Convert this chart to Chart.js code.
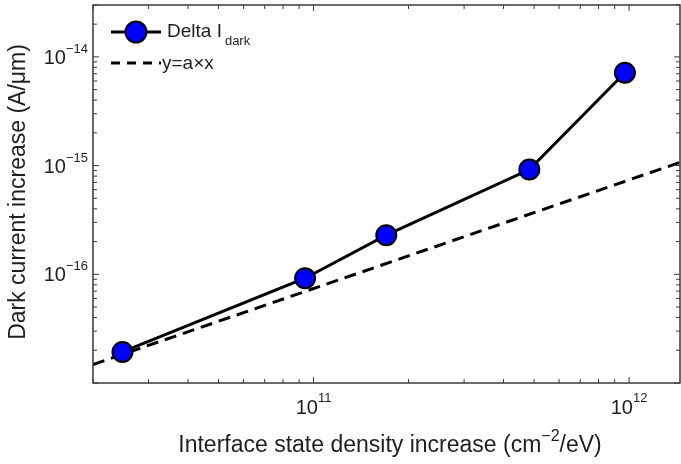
<!DOCTYPE html>
<html>
<head>
<meta charset="utf-8">
<script src="https://cdn.jsdelivr.net/npm/chart.js@4.4.0/dist/chart.umd.min.js"></script>
<style>
  html, body { margin: 0; padding: 0; background: #fff; }
  #wrap { width: 681px; height: 464px; position: relative; }
</style>
</head>
<body>
<div id="wrap"><canvas id="chartDarkCurrent" width="681" height="464"></canvas></div>
<script>
// valeurs
const densityIncrease = [2.48e10, 9.4e10, 1.70e11, 4.83e11, 9.7e11];
const darkCurrentIncrease = [1.93e-17, 9.2e-17, 2.29e-16, 9.2e-16, 7.15e-15];
// droite y = a*x (extrémités)
const fitX = [2e10, 1.45e12];
const fitY = [1.48e-17, 1.07e-15];

const xRange = [2e10, 1.45e12];
const yRange = [1e-17, 3e-14];
const xTickExps = [11, 12];
const yTickExps = [-16, -15, -14];

const FONT = '"Liberation Sans", Arial, sans-serif';
const TEXT = '#1e1e1e';
const AXIS = '#3a3a3a';

function logTicks(min, max) {
    const out = [];
    for (let e = Math.floor(Math.log10(min)); e <= Math.ceil(Math.log10(max)); e++) {
        for (let m = 1; m <= 9; m++) {
            const v = m * Math.pow(10, e);
            if (v >= min && v <= max) out.push({ v: v, major: m === 1 });
        }
    }
    return out;
}

function drawPow(ctx, exp, x, y, align, baseSize, expSize, rise) {
    const base = '10';
    const ex = String(exp).replace('-', '\u2212');
    ctx.font = baseSize + 'px ' + FONT;
    const wb = ctx.measureText(base).width;
    ctx.font = expSize + 'px ' + FONT;
    const we = ctx.measureText(ex).width;
    let x0 = x;
    if (align === 'center') x0 = x - (wb + we) / 2;
    if (align === 'right') x0 = x - (wb + we);
    ctx.textAlign = 'left';
    ctx.textBaseline = 'alphabetic';
    ctx.font = baseSize + 'px ' + FONT;
    ctx.fillText(base, x0, y);
    ctx.font = expSize + 'px ' + FONT;
    ctx.fillText(ex, x0 + wb, y - rise);
}

const framePlugin = {
    id: 'framePlugin',
    afterDraw(chart) {
        const ctx = chart.ctx;
        const a = chart.chartArea;
        const xs = chart.scales.x;
        const ys = chart.scales.y;
        ctx.save();

        // cadre
        ctx.strokeStyle = AXIS;
        ctx.lineWidth = 1.5;
        ctx.strokeRect(a.left, a.top, a.right - a.left, a.bottom - a.top);

        // graduations vers l'intérieur
        ctx.lineWidth = 1;
        logTicks(xRange[0], xRange[1]).forEach(t => {
            const px = xs.getPixelForValue(t.v);
            const len = t.major ? 6 : 4;
            ctx.beginPath();
            ctx.moveTo(px, a.bottom); ctx.lineTo(px, a.bottom - len);
            ctx.moveTo(px, a.top); ctx.lineTo(px, a.top + len);
            ctx.stroke();
        });
        logTicks(yRange[0], yRange[1]).forEach(t => {
            const py = ys.getPixelForValue(t.v);
            const len = t.major ? 6 : 4;
            ctx.beginPath();
            ctx.moveTo(a.left, py); ctx.lineTo(a.left + len, py);
            ctx.moveTo(a.right, py); ctx.lineTo(a.right - len, py);
            ctx.stroke();
        });

        // étiquettes
        ctx.fillStyle = TEXT;
        xTickExps.forEach(e => {
            drawPow(ctx, e, xs.getPixelForValue(Math.pow(10, e)), 414, 'center', 20, 13, 12);
        });
        yTickExps.forEach(e => {
            const py = ys.getPixelForValue(Math.pow(10, e));
            drawPow(ctx, e, 88, py + 7, 'right', 20, 13, 11);
        });

        // titre axe x
        ctx.font = '23px ' + FONT;
        const p1 = 'Interface state density increase (cm';
        const p2 = '/eV)';
        const sup = '\u22122';
        const w1 = ctx.measureText(p1).width;
        const w2 = ctx.measureText(p2).width;
        ctx.font = '16px ' + FONT;
        const ws = ctx.measureText(sup).width;
        let x0 = 390 - (w1 + ws + w2) / 2;
        ctx.textAlign = 'left';
        ctx.font = '23px ' + FONT;
        ctx.fillText(p1, x0, 452);
        ctx.font = '16px ' + FONT;
        ctx.fillText(sup, x0 + w1, 441);
        ctx.font = '23px ' + FONT;
        ctx.fillText(p2, x0 + w1 + ws, 452);

        // titre axe y
        ctx.save();
        ctx.translate(25, 192);
        ctx.rotate(-Math.PI / 2);
        ctx.textAlign = 'center';
        ctx.font = '23px ' + FONT;
        ctx.fillText('Dark current increase (A/\u03bcm)', 0, 0);
        ctx.restore();

        // légende
        ctx.lineWidth = 3;
        ctx.strokeStyle = '#000';
        ctx.beginPath();
        ctx.moveTo(111, 32); ctx.lineTo(161, 32);
        ctx.stroke();
        ctx.beginPath();
        ctx.arc(136, 32, 10.5, 0, Math.PI * 2);
        ctx.fillStyle = '#0000ff';
        ctx.fill();
        ctx.lineWidth = 2;
        ctx.stroke();
        ctx.fillStyle = TEXT;
        ctx.font = '19px ' + FONT;
        ctx.fillText('Delta I', 167, 37);
        const wd = ctx.measureText('Delta I').width;
        ctx.font = '13px ' + FONT;
        ctx.fillText('dark', 167 + wd + 3, 45);

        ctx.lineWidth = 3;
        ctx.setLineDash([9, 7]);
        ctx.beginPath();
        ctx.moveTo(111, 63); ctx.lineTo(161, 63);
        ctx.stroke();
        ctx.setLineDash([]);
        ctx.font = '19px ' + FONT;
        ctx.fillText('y=a\u00d7x', 162, 69);

        ctx.restore();
    }
};

const ctx = document.getElementById('chartDarkCurrent').getContext('2d');
const chart = new Chart(ctx, {
    type: 'line',
    data: {
        datasets: [
            {
                label: 'y=a×x',
                data: fitX.map((x, i) => ({ x: x, y: fitY[i] })),
                borderColor: '#000',
                borderWidth: 3,
                borderDash: [12, 7],
                pointRadius: 0,
                fill: false,
                order: 2
            },
            {
                label: 'Delta I dark',
                data: densityIncrease.map((x, i) => ({ x: x, y: darkCurrentIncrease[i] })),
                borderColor: '#000',
                borderWidth: 3,
                pointRadius: 10,
                pointBackgroundColor: '#0000ff',
                pointBorderColor: '#000',
                pointBorderWidth: 2,
                fill: false,
                order: 1
            }
        ]
    },
    options: {
        responsive: false,
        animation: false,
        layout: { autoPadding: false, padding: { left: 93, right: 1, top: 5, bottom: 81 } },
        plugins: {
            legend: { display: false },
            tooltip: { enabled: false }
        },
        scales: {
            x: { type: 'logarithmic', min: xRange[0], max: xRange[1], display: false },
            y: { type: 'logarithmic', min: yRange[0], max: yRange[1], display: false }
        }
    },
    plugins: [framePlugin]
});
</script>
</body>
</html>
